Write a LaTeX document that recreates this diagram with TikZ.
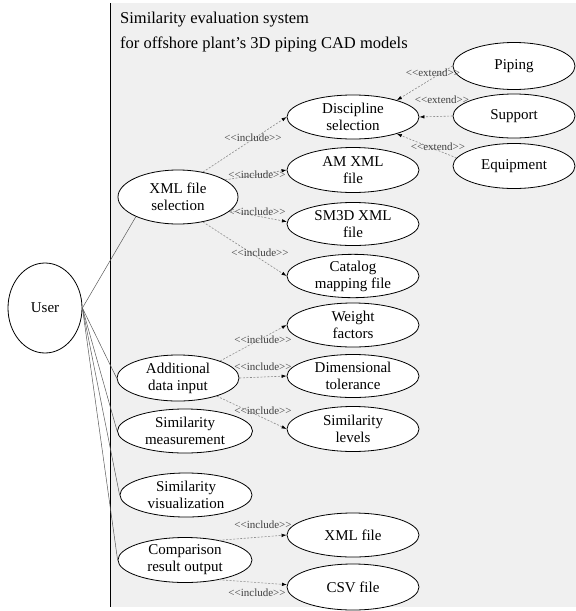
\documentclass[tikz,border=0pt]{standalone}
\usepackage{fontspec}
\setmainfont{Liberation Serif}
\usetikzlibrary{shapes.geometric,arrows.meta}
\newcommand{\stinc}{<\kern0pt<include>\kern0pt>}
\newcommand{\stext}{<\kern0pt<extend>\kern0pt>}
\begin{document}
\begin{tikzpicture}[x=1pt,y=-1pt,
  uc/.style={ellipse,draw=black,line width=0.8pt,fill=white,inner sep=0pt,align=center,
    font=\fontsize{15}{17}\selectfont},
  inc/.style={draw=black!45,line width=0.6pt,dash pattern=on 2pt off 1.5pt,
    -{Latex[length=5pt,width=3.5pt,color=black]}},
  assoc/.style={draw=black!65,line width=0.5pt},
  lbl/.style={inner sep=0pt,font=\fontsize{11}{13}\selectfont,text=black!75},
  ttl/.style={anchor=base west,inner sep=0pt,font=\fontsize{16.5}{20}\selectfont}
]
\useasboundingbox (0,0) rectangle (576,611);
\fill[black!6] (110,3) rectangle (576,607);
\draw[line width=1pt] (110,3) -- (110,607);

\node[ttl] (t1) at (120,23) {Similarity evaluation system};
\node[ttl] (t2) at (120,48) {for offshore plant's 3D piping CAD models};

% actor
\node[uc,minimum width=74pt,minimum height=90pt] (user) at (45,308) {User};

% left column
\node[uc,minimum width=120pt,minimum height=54pt] (xmlsel) at (178,197) {XML file\\selection};
\node[uc,minimum width=122pt,minimum height=46pt] (adi) at (178,378) {Additional\\data input};
\node[uc,minimum width=135pt,minimum height=44pt] (smeas) at (185,431) {Similarity\\measurement};
\node[uc,minimum width=132pt,minimum height=44pt] (svis) at (186,495) {Similarity\\visualization};
\node[uc,minimum width=134pt,minimum height=45pt] (cro) at (185,560) {Comparison\\result output};

% right column
\node[uc,minimum width=132pt,minimum height=44pt] (disc) at (353,117) {Discipline\\selection};
\node[uc,minimum width=132pt,minimum height=45pt] (amxml) at (353,170) {AM XML\\file};
\node[uc,minimum width=132pt,minimum height=43pt] (sm3d) at (353,224) {SM3D XML\\file};
\node[uc,minimum width=132pt,minimum height=43pt] (catalog) at (353,276) {Catalog\\mapping file};
\node[uc,minimum width=132pt,minimum height=44pt] (weight) at (353,325) {Weight\\factors};
\node[uc,minimum width=132pt,minimum height=43pt] (dim) at (353,376) {Dimensional\\tolerance};
\node[uc,minimum width=132pt,minimum height=45pt] (simlev) at (353,429) {Similarity\\levels};
\node[uc,minimum width=132pt,minimum height=44pt] (xmlout) at (353,535) {XML file};
\node[uc,minimum width=132pt,minimum height=46pt] (csv) at (353,587) {CSV file};

% far right
\node[uc,minimum width=122pt,minimum height=47pt] (piping) at (514,66) {Piping};
\node[uc,minimum width=122pt,minimum height=44pt] (support) at (514,116) {Support};
\node[uc,minimum width=122pt,minimum height=45pt] (equip) at (514,166) {Equipment};

% user associations
\draw[assoc] (user.east) -- (xmlsel.205);
\draw[assoc] (user.east) -- (adi.west);
\draw[assoc] (user.east) -- (smeas.west);
\draw[assoc] (user.east) -- (svis.west);
\draw[assoc] (user.east) -- (cro.west);

% includes
\draw[inc] (xmlsel.45) -- (disc.west);
\draw[inc] (xmlsel.20) -- (amxml.west);
\draw[inc] (xmlsel.-15) -- (sm3d.178);
\draw[inc] (xmlsel.-45) -- (catalog.west);
\draw[inc] (adi.22) -- (weight.west);
\draw[inc] (adi.east) -- (dim.west);
\draw[inc] (adi.-25) -- (simlev.west);
\draw[inc] (cro.30) -- (xmlout.west);
\draw[inc] (cro.-30) -- (csv.178);

% extends
\draw[inc] (piping.west) -- (disc.21);
\draw[inc] (support.west) -- (disc.east);
\draw[inc] (equip.172) -- (disc.-21);

% labels
\node[lbl] (l1) at (253,138) {\stinc};
\node[lbl] (l2) at (257,175) {\stinc};
\node[lbl] (l3) at (257,212) {\stinc};
\node[lbl] (l4) at (260,253) {\stinc};
\node[lbl] (l5) at (263,340) {\stinc};
\node[lbl] (l6) at (263,367) {\stinc};
\node[lbl] (l7) at (263,411) {\stinc};
\node[lbl] (l8) at (263,525) {\stinc};
\node[lbl] (l9) at (257,593) {\stinc};
\node[lbl] (e1) at (433,73) {\stext};
\node[lbl] (e2) at (442,100) {\stext};
\node[lbl] (e3) at (438,147) {\stext};
\end{tikzpicture}
\end{document}
